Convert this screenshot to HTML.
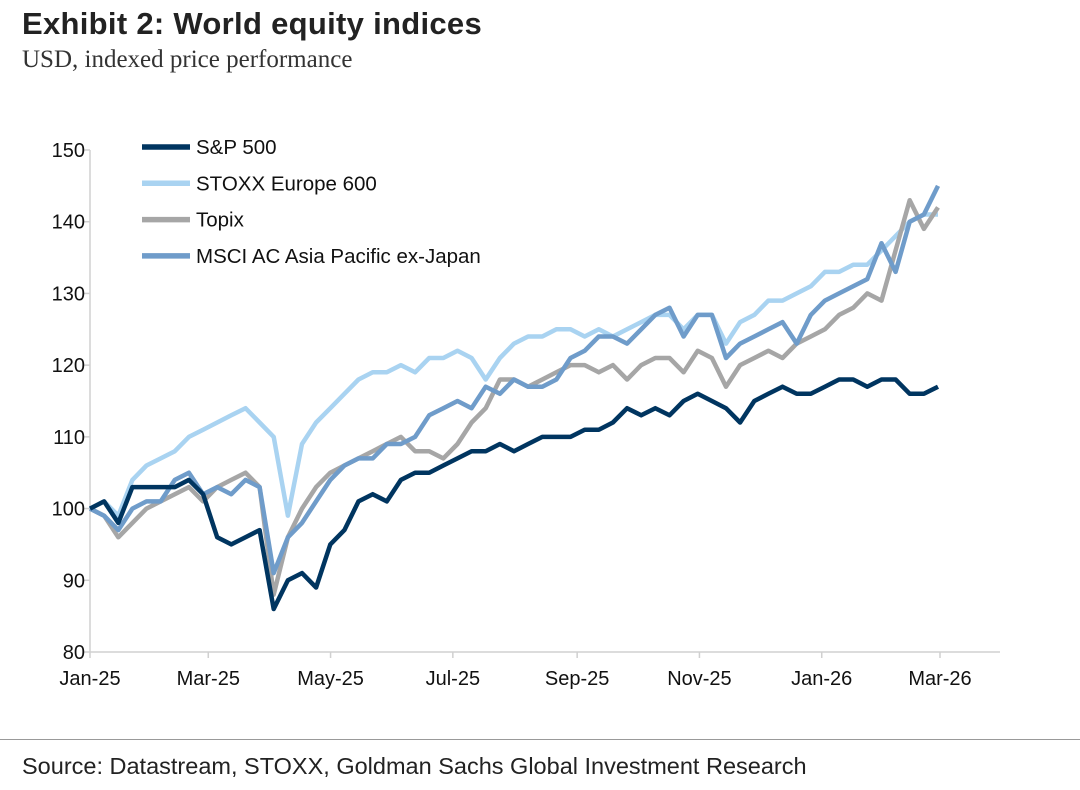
<!DOCTYPE html>
<html><head><meta charset="utf-8"><style>
body{margin:0;background:#fff;width:1080px;height:790px;overflow:hidden;font-family:"Liberation Sans",sans-serif}
#title{position:absolute;left:22px;top:6px;font-size:31px;font-weight:bold;color:#222;letter-spacing:0.3px}
#sub{position:absolute;left:22px;top:46px;font-size:25px;color:#333;font-family:"Liberation Serif",serif}
#rule{position:absolute;left:0;top:739px;width:1080px;height:1px;background:#999}
#src{position:absolute;left:22px;top:753px;font-size:23.5px;color:#222}
svg{position:absolute;left:0;top:0}
</style></head><body>
<div id="title">Exhibit 2: World equity indices</div>
<div id="sub">USD, indexed price performance</div>
<svg id="chart" width="1080" height="790"></svg>
<div id="rule"></div>
<div id="src">Source: Datastream, STOXX, Goldman Sachs Global Investment Research</div>
<script>
const xLabels=["Jan-25","Mar-25","May-25","Jul-25","Sep-25","Nov-25","Jan-26","Mar-26"];
const xLabelDays=[0,59,120,181,243,304,365,424];
const yTicks=[80,90,100,110,120,130,140,150];
const seriesNames=["S&P 500","STOXX Europe 600","Topix","MSCI AC Asia Pacific ex-Japan"];
const sp500=[100,101,98,103,103,103,103,104,102,96,95,96,97,86,90,91,89,95,97,101,102,101,104,105,105,106,107,108,108,109,108,109,110,110,110,111,111,112,114,113,114,113,115,116,115,114,112,115,116,117,116,116,117,118,118,117,118,118,116,116,117];
const stoxx=[100,101,99,104,106,107,108,110,111,112,113,114,112,110,99,109,112,114,116,118,119,119,120,119,121,121,122,121,118,121,123,124,124,125,125,124,125,124,125,126,127,127,125,127,127,123,126,127,129,129,130,131,133,133,134,134,136,138,140,141,141];
const topix=[100,99,96,98,100,101,102,103,101,103,104,105,103,88,96,100,103,105,106,107,108,109,110,108,108,107,109,112,114,118,118,117,118,119,120,120,119,120,118,120,121,121,119,122,121,117,120,121,122,121,123,124,125,127,128,130,129,136,143,139,142];
const msci=[100,99,97,100,101,101,104,105,102,103,102,104,103,91,96,98,101,104,106,107,107,109,109,110,113,114,115,114,117,116,118,117,117,118,121,122,124,124,123,125,127,128,124,127,127,121,123,124,125,126,123,127,129,130,131,132,137,133,140,141,145];
const colors=["#003560","#a9d3f1","#a6a6a6","#6f9cca"];
const X=d=>90+d*(850/424);
const Y=v=>652-(v-80)*(502/70);
const dayStep=(938-90)/60/(850/424);
const svg=document.getElementById('chart');
const NS="http://www.w3.org/2000/svg";
function mk(t,a){const e=document.createElementNS(NS,t);for(const k in a)e.setAttribute(k,a[k]);svg.appendChild(e);return e;}
let ax=mk('line',{x1:90,y1:150,x2:90,y2:652,stroke:'#d0d0d0','stroke-width':1.5});


let bx=mk('line',{x1:90,y1:652,x2:1000,y2:652,stroke:'#d0d0d0','stroke-width':1.5});


yTicks.forEach(v=>{
 let t=mk('line',{x1:84,y1:Y(v),x2:90,y2:Y(v),stroke:'#d0d0d0','stroke-width':1.5});
 
 
 let l=mk('text',{x:85,y:Y(v)+7,'text-anchor':'end','font-size':20,fill:'#111'});
 l.textContent=v;
 
 
});
xLabels.forEach((s,i)=>{
 let t=mk('line',{x1:X(xLabelDays[i]),y1:652,x2:X(xLabelDays[i]),y2:658,stroke:'#d0d0d0','stroke-width':1.5});
 
 
 let l=mk('text',{x:X(xLabelDays[i]),y:685,'text-anchor':'middle','font-size':20,fill:'#111'});
 l.textContent=s;
 
 
});
const data=[sp500,stoxx,topix,msci];
const order=[1,2,3,0];
order.forEach(si=>{
 const pts=data[si].map((v,i)=>X(i*dayStep).toFixed(1)+','+Y(v).toFixed(1)).join(' ');
 let p=mk('polyline',{points:pts,fill:'none',stroke:colors[si],'stroke-width':4.5,'stroke-linejoin':'round'});
 
 
});
seriesNames.forEach((n,i)=>{
 const y=147+i*36.3;
 let l=mk('line',{x1:142,y1:y,x2:190,y2:y,stroke:colors[i],'stroke-width':5.5});
 
 
 let t=mk('text',{x:196,y:y+7,'font-size':20.5,fill:'#111'});
 t.textContent=n;
 
 
});
</script>
</body></html>
